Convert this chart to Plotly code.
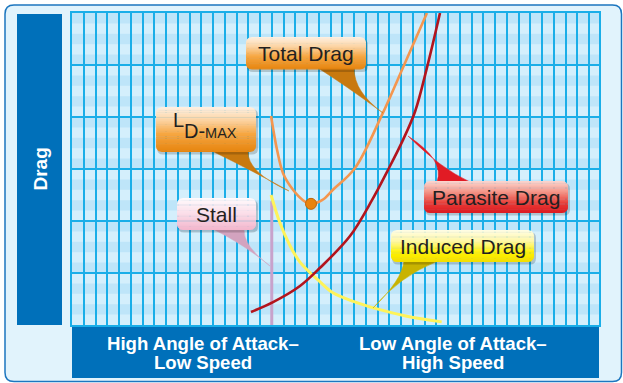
import plotly.graph_objects as go

# ---------------- data ----------------
parasite_x = [15.23, 17.11, 19.40, 21.11, 23.66, 25.53, 26.89, 28.17, 29.19, 30.21, 31.32]
parasite_y = [0.25, 0.44, 0.75, 1.10, 1.71, 2.40, 2.98, 3.56, 4.10, 4.95, 6.0]

total_x = [16.94, 17.45, 17.96, 18.81, 19.66, 20.34, 21.28, 22.21, 24.09, 26.38, 28.34, 30.21]
total_y = [4.02, 3.37, 2.92, 2.60, 2.40, 2.33, 2.40, 2.60, 3.02, 4.04, 5.04, 6.0]

induced_x = [16.94, 17.70, 18.5, 19.40, 21.11, 22.21, 24.0, 25.96, 28.5, 31.46]
induced_y = [2.50, 1.96, 1.55, 1.21, 0.83, 0.62, 0.45, 0.31, 0.17, 0.06]

stall_x = [17.0, 17.0]
stall_y = [0.0, 2.38]

ldmax_x = [20.34]
ldmax_y = [2.33]

y_label = "Drag"
x_label_left = ["High Angle of Attack–", "Low Speed"]
x_label_right = ["Low Angle of Attack–", "High Speed"]

# ---------------- geometry helpers ----------------
W, H = 623, 383
L, R, T, B = 72, 24, 13, 58
PW, PH = W - L - R, H - T - B
BOT = H - B


def px(x, y):
    return (x - L) / PW, (BOT - y) / PH


def pt(x, y):
    a, b = px(x, y)
    return f"{a:.5f},{b:.5f}"


def rrect_path(x0, y0, x1, y1, r):
    return (f"M{pt(x0 + r, y0)} L{pt(x1 - r, y0)} Q{pt(x1, y0)} {pt(x1, y0 + r)} "
            f"L{pt(x1, y1 - r)} Q{pt(x1, y1)} {pt(x1 - r, y1)} L{pt(x0 + r, y1)} "
            f"Q{pt(x0, y1)} {pt(x0, y1 - r)} L{pt(x0, y0 + r)} Q{pt(x0, y0)} {pt(x0 + r, y0)} Z")


def hex2rgb(h):
    h = h.lstrip('#')
    return [int(h[i:i + 2], 16) for i in (0, 2, 4)]


def interp(stops, t):
    for (t0, c0), (t1, c1) in zip(stops, stops[1:]):
        if t0 <= t <= t1:
            f = (t - t0) / (t1 - t0) if t1 > t0 else 0
            a, b = hex2rgb(c0), hex2rgb(c1)
            return "rgb(%d,%d,%d)" % tuple(round(a[i] + (b[i] - a[i]) * f) for i in range(3))
    return stops[-1][1]


shapes = []


def add_rect(x0, y0, x1, y1, fill, line=None, lw=0, layer="below", r=0):
    if r:
        shapes.append(dict(type="path", xref="paper", yref="paper", path=rrect_path(x0, y0, x1, y1, r),
                           fillcolor=fill, line=dict(color=line or fill, width=lw), layer=layer))
    else:
        a0, b0 = px(x0, y1)
        a1, b1 = px(x1, y0)
        shapes.append(dict(type="rect", xref="paper", yref="paper", x0=a0, y0=b0, x1=a1, y1=b1,
                           fillcolor=fill, line=dict(color=line or fill, width=lw), layer=layer))


def inset(y, y0, y1, r):
    if y < y0 + r:
        d = y0 + r - y
    elif y > y1 - r:
        d = y - (y1 - r)
    else:
        return 0.0
    d = min(d, r)
    return r - (r * r - d * d) ** 0.5


def grad_box(x0, y0, x1, y1, r, stops, n=26):
    # soft shadow
    shapes.append(dict(type="path", xref="paper", yref="paper",
                       path=rrect_path(x0 + 1, y0 + 2, x1 + 2, y1 + 2.5, r),
                       fillcolor="rgba(0,0,0,0.18)", line=dict(width=0), layer="above"))
    for i in range(n):
        ya = y0 + (y1 - y0) * i / n
        yb = y0 + (y1 - y0) * (i + 1) / n + (0.4 if i < n - 1 else 0)
        ia, ib = inset(ya, y0, y1, r), inset(yb, y0, y1, r)
        ym = (ya + yb) / 2
        ia2 = inset(ym, y0, y1, r)
        path = (f"M{pt(x0 + ia, ya)} L{pt(x1 - ia, ya)} L{pt(x1 - ia2, ym)} L{pt(x1 - ib, yb)} "
                f"L{pt(x0 + ib, yb)} L{pt(x0 + ia2, ym)} Z")
        shapes.append(dict(type="path", xref="paper", yref="paper", path=path,
                           fillcolor=interp(stops, (i + 0.5) / n), line=dict(width=0), layer="above"))


def tail(a, b, ybase, tip, c1, c2, color):
    tx, ty = tip
    path = f"M{pt(a, ybase)} Q{pt(*c1)} {pt(tx, ty)} Q{pt(*c2)} {pt(b, ybase)} Z"
    shapes.append(dict(type="path", xref="paper", yref="paper", path=path,
                       fillcolor=color, line=dict(color=color, width=0.5), layer="above"))


# ---------------- background decorations ----------------
add_rect(5, 5, 621.5, 381.5, "#e1f3fc", line="#1c76bf", lw=1.5, r=9)
add_rect(17, 14, 62, 325, "#0070ba")
add_rect(72, 327, 599, 378, "#0070ba")
add_rect(72, 13, 599, 325, "#d4effc")
# horizontal stripes (continuous alternation of 10.4 px bands)
for k in range(30):
    if k % 2 == 0:
        ytop = 13 + k * PH / 30
        add_rect(72, ytop, 599, ytop + PH / 30, "#bee5f9")

# ---------------- callouts ----------------
ORANGE = [(0, '#fef1e3'), (0.3, '#fcd3a2'), (0.6, '#f6a641'), (1, '#e6840e')]
RED = [(0, '#fcd6cf'), (0.35, '#f59486'), (0.7, '#e83a35'), (1, '#dc1a21')]
PINK = [(0, '#fffbfd'), (0.5, '#fbdde8'), (1, '#f3b5cc')]
YELLOW = [(0, '#fffde6'), (0.35, '#fff8a6'), (0.7, '#fff200'), (1, '#f3de00')]

# Total Drag
tail(318, 354, 68, (383, 113), (345, 85), (354, 92), "#c8790f")
grad_box(246, 37, 366, 69.5, 6, ORANGE)
# L/D max
tail(212, 248, 151, (289, 191), (255, 172), (247, 172), "#c8790f")
grad_box(156, 107, 256, 152, 6, ORANGE)
# Parasite Drag
tail(437, 470, 182, (408, 136), (445, 160), (440, 168), "#e11b24")
grad_box(424, 181, 568, 213, 6, RED)
# Stall
tail(213, 244, 229, (270, 266), (245, 245), (243, 246), "#d3a3bf")
grad_box(177, 198, 256, 230, 6, PINK)
# Induced Drag
tail(404, 438, 261, (373, 308), (402, 280), (400, 276), "#c9b300")
grad_box(391, 230, 534, 262, 6, YELLOW)

# ---------------- traces ----------------
fig = go.Figure()
fig.add_trace(go.Scatter(x=stall_x, y=stall_y, mode="lines",
                         line=dict(color="#c8a2cb", width=3), hoverinfo="skip", showlegend=False))
fig.add_trace(go.Scatter(x=induced_x, y=induced_y, mode="lines",
                         line=dict(color="#fff35a", width=3, shape="spline", smoothing=1),
                         hoverinfo="skip", showlegend=False))
fig.add_trace(go.Scatter(x=parasite_x, y=parasite_y, mode="lines",
                         line=dict(color="#b3141d", width=2.6, shape="spline", smoothing=1),
                         hoverinfo="skip", showlegend=False))
fig.add_trace(go.Scatter(x=total_x, y=total_y, mode="lines",
                         line=dict(color="#f5964e", width=2.6, shape="spline", smoothing=1),
                         hoverinfo="skip", showlegend=False))
fig.add_trace(go.Scatter(x=ldmax_x, y=ldmax_y, mode="markers",
                         marker=dict(color="#e9830f", size=11, line=dict(color="#c0650a", width=1)),
                         hoverinfo="skip", showlegend=False))

# ---------------- annotations ----------------
ann = []
FONT = "Liberation Sans, Arial, sans-serif"


def text(x, y, s, size, color="#231f20", bold=False, angle=0, xanchor="center"):
    a, b = px(x, y)
    ann.append(dict(xref="paper", yref="paper", x=a, y=b, text=(f"<b>{s}</b>" if bold else s),
                    showarrow=False, xanchor=xanchor, yanchor="middle", textangle=angle,
                    font=dict(family=FONT, size=size, color=color)))


text(306, 54, "Total Drag", 21)
text(496, 197.5, "Parasite Drag", 21)
text(216.5, 214.5, "Stall", 21)
text(462.5, 246.5, "Induced Drag", 21)
text(171, 120, "L", 20, xanchor="left")
text(182, 131, "D-<span style='font-size:14.5px'>MAX</span>", 20, xanchor="left")

text(39.5, 169, y_label, 19, color="white", bold=True, angle=-90)
text(203, 343.5, x_label_left[0], 18.6, color="white", bold=True)
text(203, 362.5, x_label_left[1], 18.6, color="white", bold=True)
text(453, 343.5, x_label_right[0], 18.6, color="white", bold=True)
text(453, 362.5, x_label_right[1], 18.6, color="white", bold=True)

fig.update_layout(
    width=W, height=H, autosize=False,
    margin=dict(l=L, r=R, t=T, b=B, pad=0),
    paper_bgcolor="white", plot_bgcolor="rgba(0,0,0,0)",
    shapes=shapes, annotations=ann,
    xaxis=dict(range=[0, 44.85], dtick=1, tick0=0, showgrid=True, gridcolor="#1aaee8", gridwidth=1.8,
               showticklabels=False, ticks="", zeroline=False, showline=True, mirror=True,
               linecolor="#1aaee8", linewidth=2, fixedrange=True),
    yaxis=dict(range=[0, 6], dtick=1, tick0=0, showgrid=True, gridcolor="#1aaee8", gridwidth=2,
               showticklabels=False, ticks="", zeroline=False, showline=True, mirror=True,
               linecolor="#1aaee8", linewidth=2, fixedrange=True),
    showlegend=False,
)

fig.write_html("out.html", config=dict(displayModeBar=False),
               post_script="document.body.style.margin='0';document.body.style.overflow='hidden';")
